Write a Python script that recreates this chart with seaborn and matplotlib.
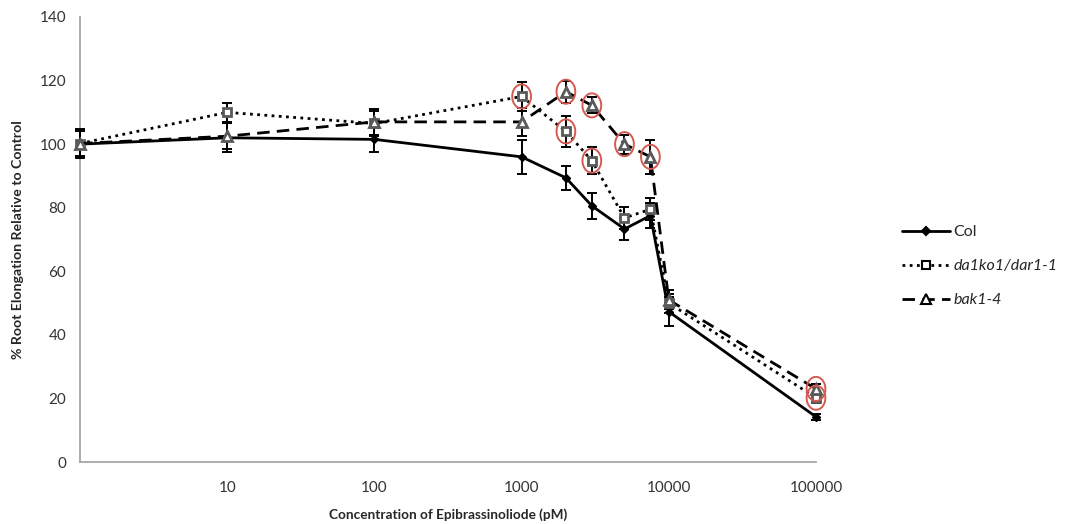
import numpy as np
import pandas as pd
import matplotlib
matplotlib.use("Agg")
import matplotlib.pyplot as plt
from matplotlib.path import Path
from matplotlib.lines import Line2D
import seaborn as sns

# Epibrassinolide concentrations (pM)
conc = [1, 10, 100, 1000, 2000, 3000, 5000, 7500, 10000, 100000]

col_mean = [100.0, 102.0, 101.5, 96.0, 89.4, 80.6, 73.3, 77.5, 47.3, 14.2]
col_err = [4.0, 4.5, 4.0, 5.3, 3.7, 4.0, 3.5, 4.0, 4.5, 1.0]

da1_mean = [100.2, 110.0, 106.5, 115.0, 104.0, 94.8, 76.8, 79.5, 50.0, 20.2]
da1_err = [4.0, 3.0, 4.0, 4.6, 5.0, 4.3, 3.5, 3.5, 3.0, 1.5]

bak_mean = [100.2, 102.5, 107.0, 107.0, 116.5, 112.2, 100.0, 96.0, 51.0, 23.0]
bak_err = [4.5, 4.0, 4.0, 4.5, 3.4, 2.5, 3.0, 5.3, 3.0, 1.5]

# points flagged as significantly different from Col
da1_sig = [0, 0, 0, 1, 1, 1, 0, 0, 0, 1]
bak_sig = [0, 0, 0, 0, 1, 1, 1, 1, 0, 1]

series_names = ["Col", "da1ko1/dar1-1", "bak1-4"]

sns.set_style("white")
plt.rcParams["font.family"] = ["Lato", "DejaVu Sans"]

fig = plt.figure(figsize=(10.69, 5.24), dpi=100)
ax = fig.add_axes([80 / 1069, 1 - 462 / 524, (816 - 80) / 1069, (462 - 17) / 524])

df = pd.DataFrame({
    "conc": conc * 3,
    "value": col_mean + da1_mean + bak_mean,
    "err": col_err + da1_err + bak_err,
    "series": sum([[n] * len(conc) for n in series_names], []),
})

styles = {
    "Col": dict(linestyle="-", marker="D", ms=4.5, mfc="black", mec="black", mew=1),
    "da1ko1/dar1-1": dict(linestyle=(0, (1, 1.6)), marker="s", ms=5.5, mfc="white", mec="#5a5a5a", mew=2.0),
    "bak1-4": dict(linestyle=(0, (4.5, 2.6)), marker="^", ms=6.5, mfc="white", mec="#5a5a5a", mew=2.0),
}

for name in series_names:
    sub = df[df["series"] == name]
    st = styles[name]
    eb = ax.errorbar(sub["conc"], sub["value"], yerr=sub["err"], fmt="none",
                     ecolor="black", elinewidth=1.4, capsize=3.6, capthick=1.4, zorder=3)
    for art in eb.lines[1] + eb.lines[2]:
        art.set_clip_on(False)
    sns.lineplot(data=sub, x="conc", y="value", ax=ax, color="black",
                 linewidth=2, linestyle=st["linestyle"], marker=st["marker"],
                 markersize=st["ms"], markerfacecolor=st["mfc"],
                 markeredgecolor=st["mec"], markeredgewidth=st["mew"],
                 errorbar=None, zorder=4, clip_on=False)

# red ellipses around significant points
theta = np.linspace(0, 2 * np.pi, 60)
ellipse = Path(np.column_stack([np.cos(theta) * 0.78, np.sin(theta)]))
sig_x = [c for c, s in zip(conc, da1_sig) if s] + [c for c, s in zip(conc, bak_sig) if s]
sig_y = [v for v, s in zip(da1_mean, da1_sig) if s] + [v for v, s in zip(bak_mean, bak_sig) if s]
ax.scatter(sig_x, sig_y, marker=ellipse, s=300, facecolors="none",
           edgecolors="#d45a50", linewidths=1.4, zorder=5, clip_on=False)

ax.set_xscale("log")
ax.set_xlim(1, 100000)
ax.set_ylim(0, 140)
ax.set_xticks([10, 100, 1000, 10000, 100000])
ax.set_xticklabels(["10", "100", "1000", "10000", "100000"])
ax.xaxis.set_minor_locator(matplotlib.ticker.NullLocator())
ax.set_yticks(np.arange(0, 141, 20))
ax.tick_params(axis="both", length=0, labelsize=11, colors="#333333", pad=14)
ax.tick_params(axis="y", pad=10)

for s in ["top", "right"]:
    ax.spines[s].set_visible(False)
for s in ["left", "bottom"]:
    ax.spines[s].set_color("#a6a6a6")
    ax.spines[s].set_linewidth(1.3)

ax.set_xlabel("Concentration of Epibrassinoliode (pM)", fontsize=9.8, fontweight="bold", labelpad=9)
ax.set_ylabel("% Root Elongation Relative to Control", fontsize=10.2, fontweight="bold", labelpad=11)

handles = []
for name in series_names:
    st = styles[name]
    handles.append(Line2D([], [], color="black", linewidth=2, linestyle=st["linestyle"],
                          marker=st["marker"], markersize=st["ms"],
                          markerfacecolor="black" if name == "Col" else "white",
                          markeredgecolor="black", markeredgewidth=1.5))
leg = ax.legend(handles, series_names, loc="upper left", bbox_to_anchor=(1.097, 0.565),
                frameon=False, fontsize=11.5, handlelength=3.0, labelspacing=1.25,
                handletextpad=0.25)
for t in leg.get_texts():
    if t.get_text() != "Col":
        t.set_fontstyle("italic")

fig.savefig("out.png", dpi=100)
